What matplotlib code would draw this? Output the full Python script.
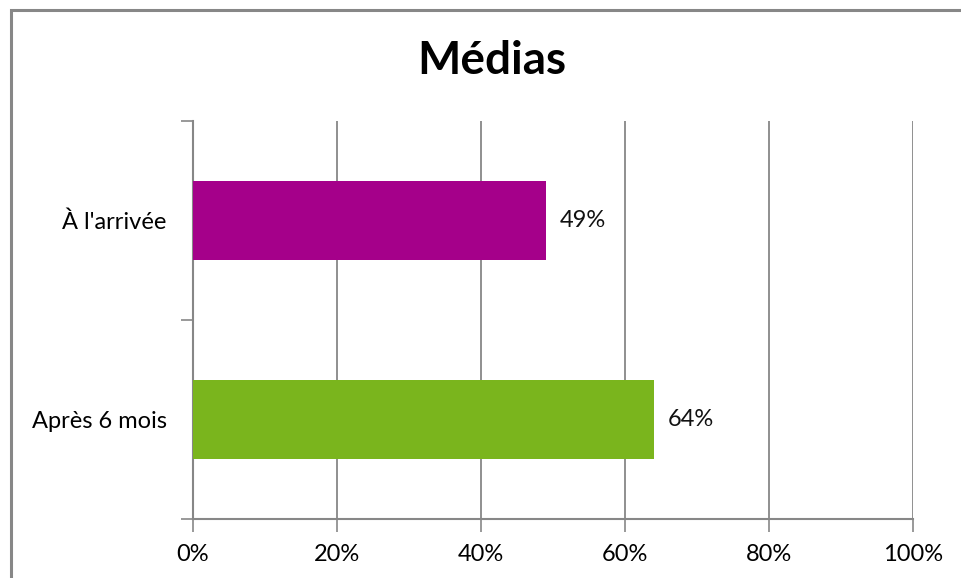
import matplotlib.pyplot as plt
from matplotlib.patches import Rectangle
from matplotlib.ticker import FixedLocator, PercentFormatter

# data
categories = ["Après 6 mois", "À l'arrivée"]
values = [64, 49]
bar_colors = ["#7AB51D", "#A5008A"]
x_ticks = [0, 20, 40, 60, 80, 100]

GREY = "#878787"
plt.rcParams["font.family"] = ["Lato", "DejaVu Sans"]

fig = plt.figure(figsize=(9.62, 5.78), dpi=100)
ax = fig.add_axes([193 / 962, 1 - 519 / 578, 720 / 962, 398 / 578])

# chart frame (runs off the right / bottom edge)
fig.patches.append(Rectangle((11 / 962, -0.1), 1.2, 1 - 9.5 / 578 + 0.1,
                             transform=fig.transFigure, fill=False,
                             edgecolor=GREY, linewidth=2.2))

pos = list(range(len(categories)))
bars = ax.barh(pos, values, height=0.4, color=bar_colors, zorder=3)

for b, v in zip(bars, values):
    ax.text(b.get_width() + 2.0, b.get_y() + b.get_height() / 2, f"{v}%",
            va="center", ha="left", fontsize=17, color="#111111")

ax.set_xlim(0, 100)
ax.set_ylim(-0.5, len(categories) - 0.5)
ax.set_xticks(x_ticks)
ax.xaxis.set_major_formatter(PercentFormatter(decimals=0))
ax.grid(axis="x", color=GREY, linewidth=1.3, zorder=0)

# ticks on category boundaries, labels on centres
ax.yaxis.set_major_locator(FixedLocator([-0.5, 0.5, 1.5]))
ax.set_yticklabels(["", "", ""])
ax.yaxis.set_minor_locator(FixedLocator(pos))
ax.set_yticklabels(categories, minor=True)
ax.tick_params(axis="y", which="minor", length=0, pad=19, labelsize=17)
ax.tick_params(axis="y", which="major", length=9, width=1.2, color=GREY)
ax.tick_params(axis="x", length=9, width=1.2, color=GREY, pad=9, labelsize=17)

for side in ["top", "right"]:
    ax.spines[side].set_visible(False)
for side in ["left", "bottom"]:
    ax.spines[side].set_color(GREY)
    ax.spines[side].set_linewidth(1.5)

fig.text(492 / 962, 1 - 61 / 578, "Médias", ha="center", va="center",
         fontsize=33, fontweight="bold", color="#000000")

fig.savefig("out.png", dpi=100)
